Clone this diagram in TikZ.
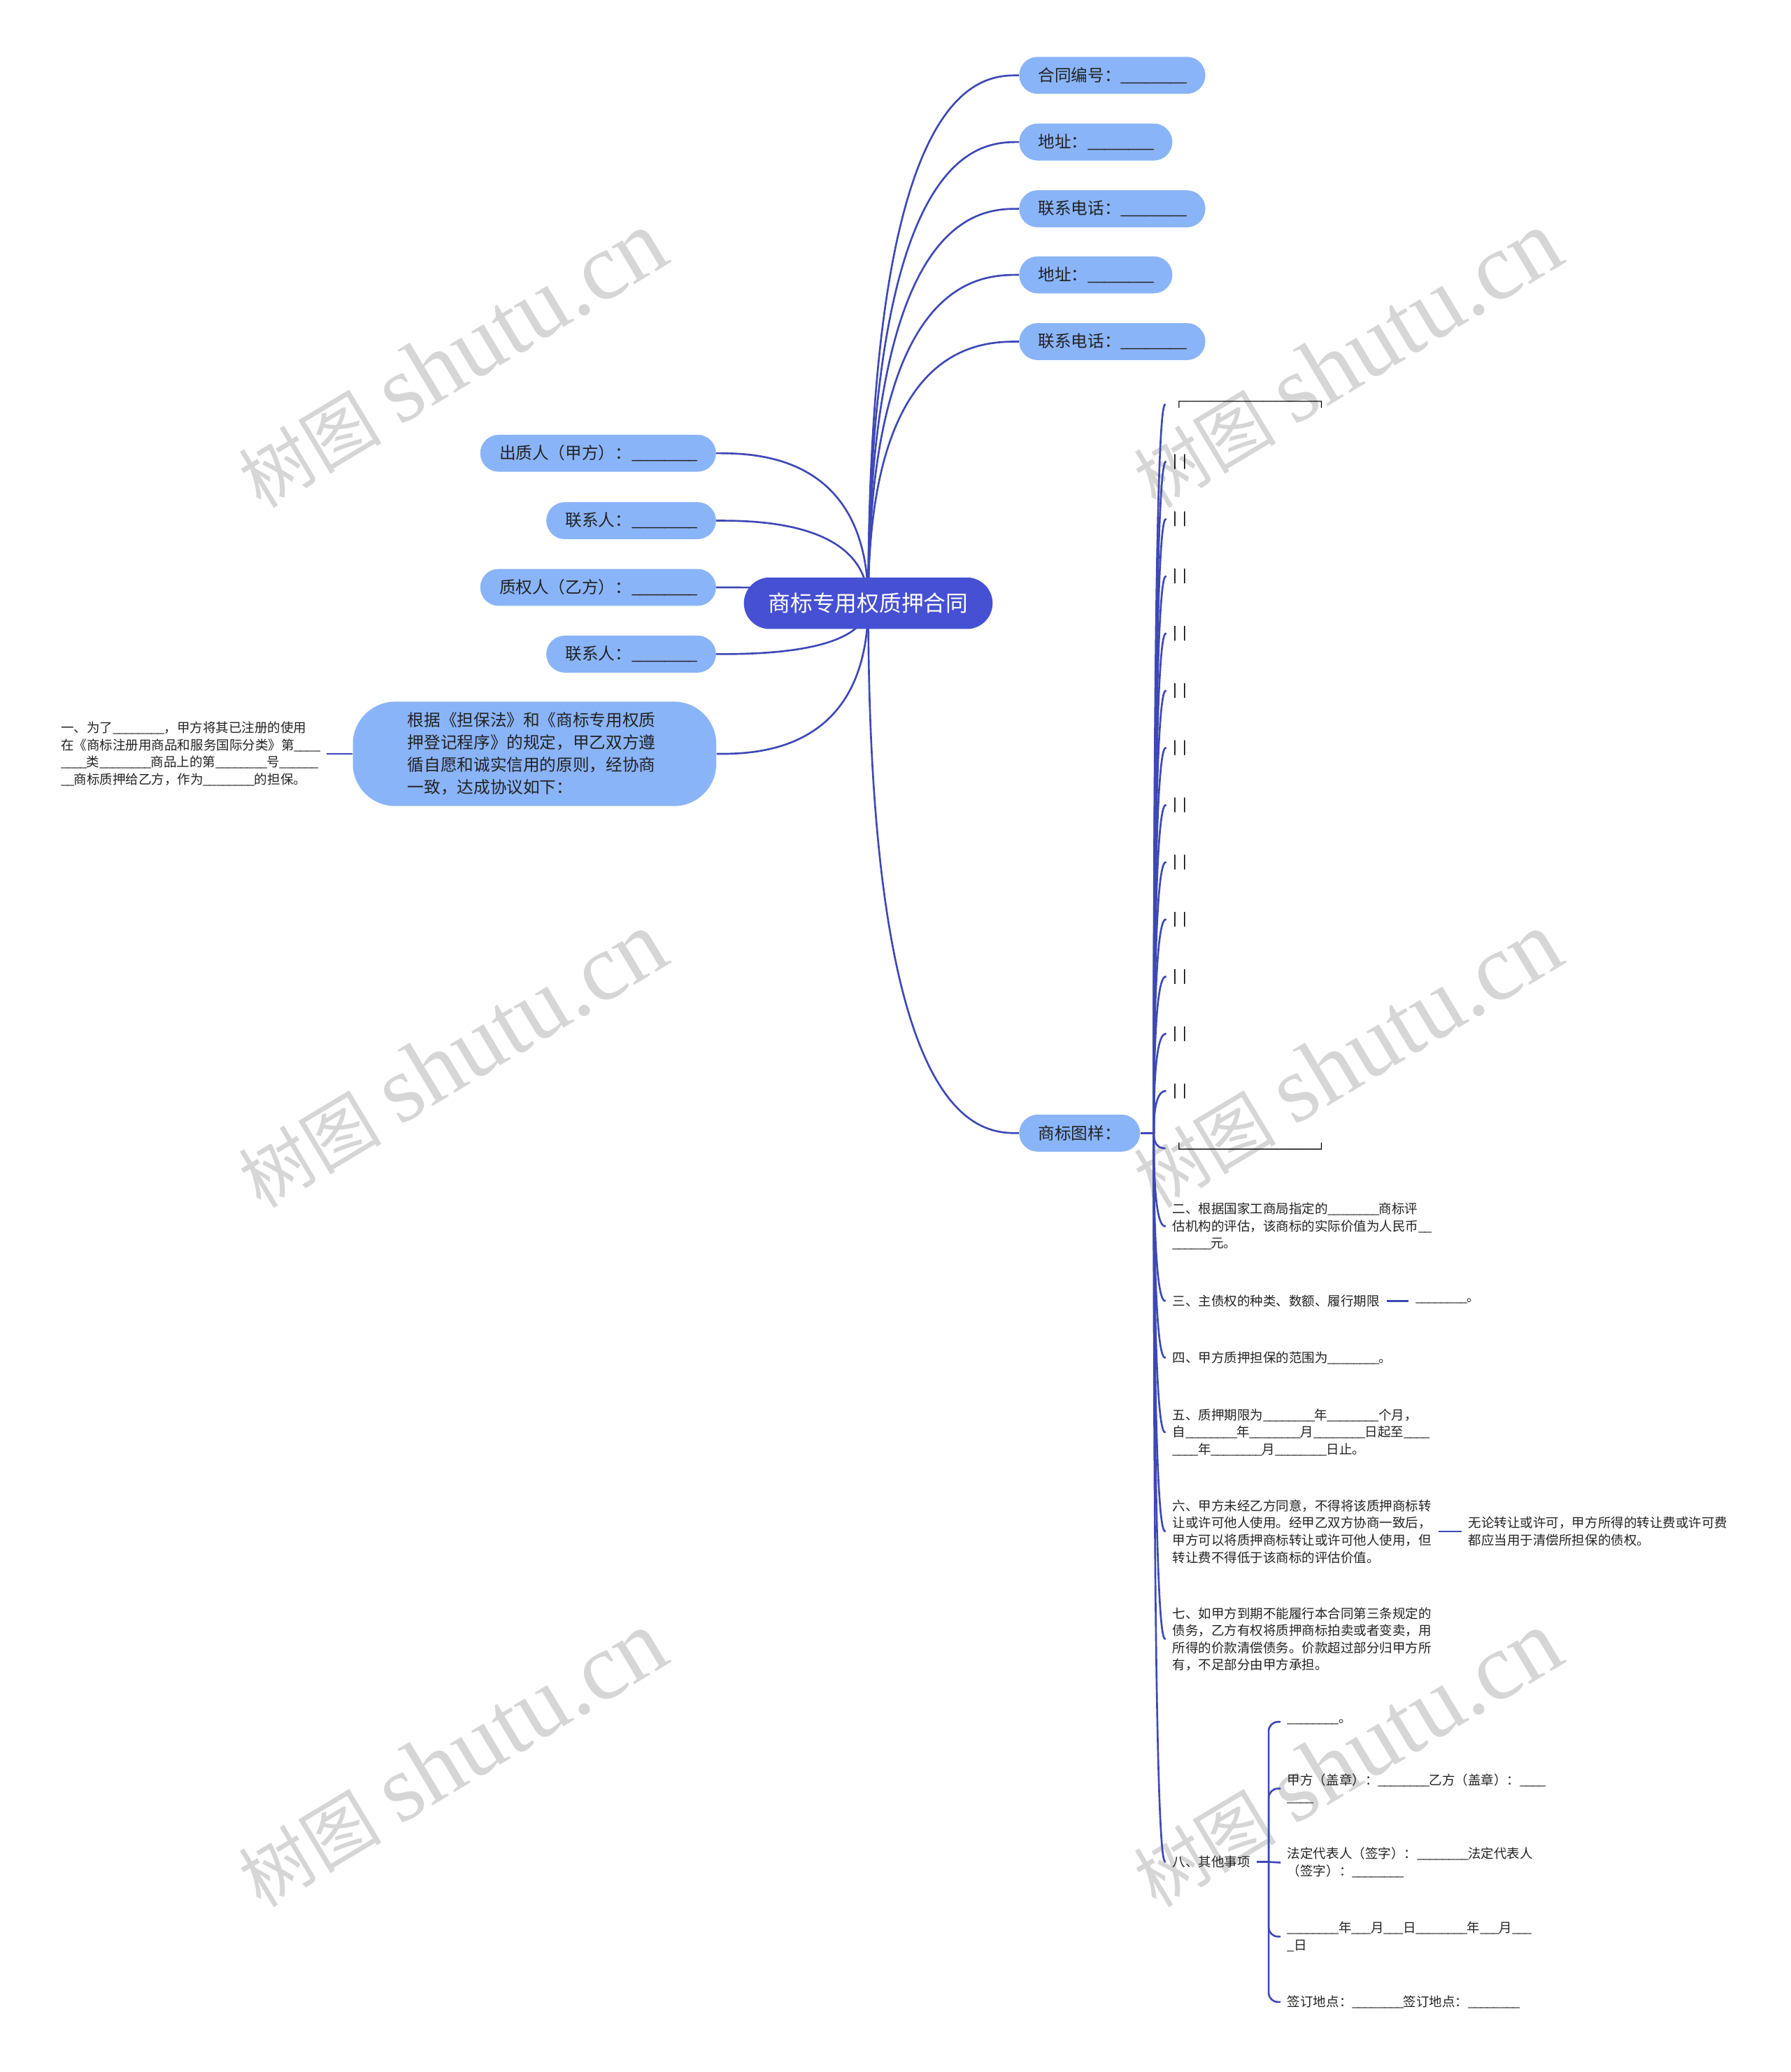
\documentclass[tikz,border=0pt]{standalone}
\usepackage{fontspec}
\setmainfont{Noto Sans CJK SC}
\newfontfamily\wmlatin{Liberation Serif}
\newfontfamily\boxfont[FakeBold=1.5]{Noto Sans CJK SC}
\usetikzlibrary{calc,backgrounds}
\definecolor{linec}{HTML}{3D48B5}
\definecolor{rootc}{HTML}{4550D2}
\definecolor{nodec}{HTML}{8AB4F8}
\definecolor{txtc}{HTML}{222222}
\definecolor{wmc}{HTML}{D6D6D6}
\newcommand\curvecon[2]{\draw[conn] (#1) .. controls (#1 |- #2) and ($(#1 |- #2)!0.75!(#2)$) .. (#2);}
\newcommand\narrowusc{\char95\kern-0.065em\relax}
\catcode`\_=\active
\def_{\narrowusc}
\begin{document}
\begin{tikzpicture}[x=1pt,y=-1pt,
  conn/.style={draw=linec,line width=1.4pt},
  rootbox/.style={fill=rootc,text=white,rounded corners=19.5pt,minimum height=39pt,inner xsep=18.5pt,inner ysep=0pt,font=\fontsize{16.8}{20}\selectfont},
  subbox/.style={fill=nodec,text=txtc,rounded corners=14pt,minimum height=28pt,inner xsep=14.5pt,inner ysep=0pt,font=\fontsize{12.5}{17}\selectfont},
  bigbox/.style={fill=nodec,text=txtc,rounded corners=32pt,minimum height=79pt,minimum width=275pt,text width=192pt,align=left,inner ysep=0pt,font=\fontsize{12.5}{17}\selectfont},
  leaf/.style={anchor=west,align=left,text=txtc,inner xsep=5pt,inner ysep=1pt,font=\fontsize{9.8}{13}\selectfont},
  boxleaf/.style={leaf,text=black,font=\boxfont\fontsize{9.8}{13}\selectfont},
  wm/.style={text=wmc,rotate=31,inner sep=0pt}
]
\useasboundingbox (0,0) rectangle (1355,1568);

% root
\node[rootbox] (root) at (657,456.5) {商标专用权质押合同};

% right top
\node[subbox,anchor=west] (n1) at (771,57) {合同编号：________};
\node[subbox,anchor=west] (n2) at (771,107.5) {地址：________};
\node[subbox,anchor=west] (n3) at (771,158) {联系电话：________};
\node[subbox,anchor=west] (n4) at (771,208) {地址：________};
\node[subbox,anchor=west] (n5) at (771,258.5) {联系电话：________};
\node[subbox,anchor=west] (sb) at (771,857.5) {商标图样：};

% left
\node[subbox,anchor=east] (l1) at (542,343) {出质人（甲方）：________};
\node[subbox,anchor=east] (l2) at (542,394) {联系人：________};
\node[subbox,anchor=east] (l3) at (542,444.5) {质权人（乙方）：________};
\node[subbox,anchor=east] (l4) at (542,495) {联系人：________};
\node[bigbox] (l5) at (404.5,570.5) {根据《担保法》和《商标专用权质\\押登记程序》的规定，甲乙双方遵\\循自愿和诚实信用的原则，经协商\\一致，达成协议如下：};
\node[leaf] (l5a) at (41,570.5) {一、为了________，甲方将其已注册的使用\\在《商标注册用商品和服务国际分类》第____\\____类________商品上的第________号______\\__商标质押给乙方，作为________的担保。};

% trademark sample children
\coordinate (sbj) at (873,857.5);
\node[boxleaf] (t0) at (882,306) {┌──────────┐};
\foreach \k in {1,...,12}{
  \node[boxleaf] (t\k) at (882.5,{306+43.3*\k}) {|\hspace{0.25em} |};
}
\node[boxleaf] (t13) at (882,869) {└──────────┘};
\node[leaf] (e2) at (882,928) {二、根据国家工商局指定的________商标评\\估机构的评估，该商标的实际价值为人民币__\\______元。};
\node[leaf] (e3) at (882,984.5) {三、主债权的种类、数额、履行期限};
\node[leaf] (e3a) at (1066,984.5) {________。};
\node[leaf] (e4) at (882,1027.5) {四、甲方质押担保的范围为________。};
\node[leaf] (e5) at (882,1084) {五、质押期限为________年________个月，\\自________年________月________日起至____\\____年________月________日止。};
\node[leaf] (e6) at (882,1159) {六、甲方未经乙方同意，不得将该质押商标转\\让或许可他人使用。经甲乙双方协商一致后，\\甲方可以将质押商标转让或许可他人使用，但\\转让费不得低于该商标的评估价值。};
\node[leaf] (e6a) at (1106,1159) {无论转让或许可，甲方所得的转让费或许可费\\都应当用于清偿所担保的债权。};
\node[leaf] (e7) at (882,1240.5) {七、如甲方到期不能履行本合同第三条规定的\\债务，乙方有权将质押商标拍卖或者变卖，用\\所得的价款清偿债务。价款超过部分归甲方所\\有，不足部分由甲方承担。};
\node[leaf] (e8) at (882,1409) {八、其他事项};
\coordinate (bj) at (960,1409);
\node[leaf] (g1) at (969,1303) {________。};
\node[leaf] (g2) at (969,1353.5) {甲方（盖章）：________乙方（盖章）：____\\____};
\node[leaf] (g3) at (969,1409.5) {法定代表人（签字）：________法定代表人\\（签字）：________};
\node[leaf] (g4) at (969,1465.5) {________年___月___日________年___月___\\_日};
\node[leaf] (g5) at (969,1515) {签订地点：________签订地点：________};

\begin{pgfonlayer}{background}
% watermarks
\foreach \wx/\wy [count=\i] in {342/272,1019/272,342/802,1019/802,342/1331,1019/1331}{
  \node[wm] (wm\i) at (\wx,\wy) {{\fontsize{54}{54}\selectfont 树图}\hspace{14pt}{\wmlatin\fontsize{72}{72}\selectfont shutu.cn}};
}
% root connectors
\curvecon{root.center}{n1.west}
\curvecon{root.center}{n2.west}
\curvecon{root.center}{n3.west}
\curvecon{root.center}{n4.west}
\curvecon{root.center}{n5.west}
\curvecon{root.center}{sb.west}
\curvecon{root.center}{l1.east}
\curvecon{root.center}{l2.east}
\curvecon{root.center}{l3.east}
\curvecon{root.center}{l4.east}
\curvecon{root.center}{l5.east}
\draw[conn] (l5a.east) -- (l5.west);
% trademark children
\draw[conn] (sb.east) -- (sbj);
\foreach \k in {0,...,13}{ \curvecon{sbj}{t\k.west} }
\foreach \k in {2,...,8}{ \curvecon{sbj}{e\k.west} }
\draw[conn] (e3.east) -- (e3a.west);
\draw[conn] (e6.east) -- (e6a.west);
\draw[conn] (e8.east) -- (bj);
\draw[conn] (bj) -- (g3.west);
\foreach \g in {g1,g2,g4,g5}{ \draw[conn,rounded corners=7pt] (bj) |- (\g.west); }
\end{pgfonlayer}
\end{tikzpicture}
\end{document}
